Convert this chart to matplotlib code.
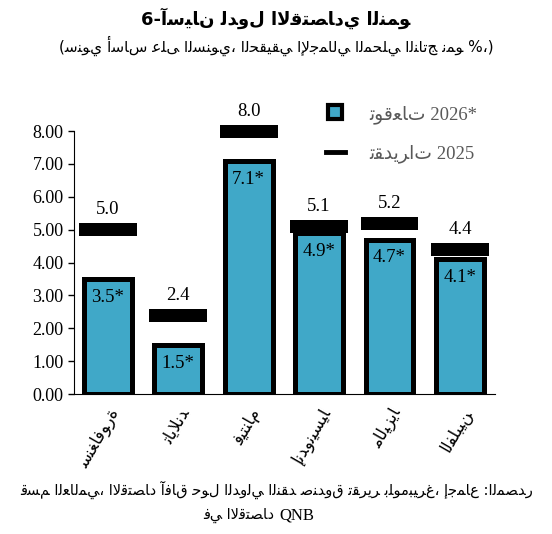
import matplotlib
matplotlib.use("Agg")
import matplotlib.pyplot as plt
from matplotlib.lines import Line2D

categories = ["سنغافورة", "تايلاند", "فيتنام", "إندونيسيا", "ماليزيا", "الفلبين"]
forecast_2026 = [3.5, 1.5, 7.1, 4.9, 4.7, 4.1]
estimate_2025 = [5.0, 2.4, 8.0, 5.1, 5.2, 4.4]
yticks = [0, 1, 2, 3, 4, 5, 6, 7, 8]

# --- minimal Arabic shaper (isolated, final, initial, medial), logical order kept ---
F = {
 'ا': (0xFE8D, 0xFE8E, None, None), 'آ': (0xFE81, 0xFE82, None, None),
 'أ': (0xFE83, 0xFE84, None, None), 'إ': (0xFE87, 0xFE88, None, None),
 'ؤ': (0xFE85, 0xFE86, None, None), 'ء': (0xFE80, None, None, None),
 'ب': (0xFE8F, 0xFE90, 0xFE91, 0xFE92), 'ة': (0xFE93, 0xFE94, None, None),
 'ت': (0xFE95, 0xFE96, 0xFE97, 0xFE98), 'ث': (0xFE99, 0xFE9A, 0xFE9B, 0xFE9C),
 'ج': (0xFE9D, 0xFE9E, 0xFE9F, 0xFEA0), 'ح': (0xFEA1, 0xFEA2, 0xFEA3, 0xFEA4),
 'خ': (0xFEA5, 0xFEA6, 0xFEA7, 0xFEA8), 'د': (0xFEA9, 0xFEAA, None, None),
 'ذ': (0xFEAB, 0xFEAC, None, None), 'ر': (0xFEAD, 0xFEAE, None, None),
 'ز': (0xFEAF, 0xFEB0, None, None), 'س': (0xFEB1, 0xFEB2, 0xFEB3, 0xFEB4),
 'ش': (0xFEB5, 0xFEB6, 0xFEB7, 0xFEB8), 'ص': (0xFEB9, 0xFEBA, 0xFEBB, 0xFEBC),
 'ض': (0xFEBD, 0xFEBE, 0xFEBF, 0xFEC0), 'ط': (0xFEC1, 0xFEC2, 0xFEC3, 0xFEC4),
 'ظ': (0xFEC5, 0xFEC6, 0xFEC7, 0xFEC8), 'ع': (0xFEC9, 0xFECA, 0xFECB, 0xFECC),
 'غ': (0xFECD, 0xFECE, 0xFECF, 0xFED0), 'ف': (0xFED1, 0xFED2, 0xFED3, 0xFED4),
 'ق': (0xFED5, 0xFED6, 0xFED7, 0xFED8), 'ك': (0xFED9, 0xFEDA, 0xFEDB, 0xFEDC),
 'ل': (0xFEDD, 0xFEDE, 0xFEDF, 0xFEE0), 'م': (0xFEE1, 0xFEE2, 0xFEE3, 0xFEE4),
 'ن': (0xFEE5, 0xFEE6, 0xFEE7, 0xFEE8), 'ه': (0xFEE9, 0xFEEA, 0xFEEB, 0xFEEC),
 'و': (0xFEED, 0xFEEE, None, None), 'ى': (0xFEEF, 0xFEF0, None, None),
 'ي': (0xFEF1, 0xFEF2, 0xFEF3, 0xFEF4), 'ئ': (0xFE89, 0xFE8A, 0xFE8B, 0xFE8C),
}
LA = {'ا': (0xFEFB, 0xFEFC), 'أ': (0xFEF7, 0xFEF8), 'إ': (0xFEF9, 0xFEFA), 'آ': (0xFEF5, 0xFEF6)}

def shape(w):
    chars = []
    i = 0
    while i < len(w):
        if w[i] == 'ل' and i + 1 < len(w) and w[i+1] in LA:
            chars.append(('LA', w[i+1])); i += 2
        else:
            chars.append((w[i], None)); i += 1
    def dual(c):
        return c[0] in F and F[c[0]][2] is not None
    def joins(c):
        return c[0] == 'LA' or c[0] in F
    out = []
    for k, c in enumerate(chars):
        prev_j = k > 0 and dual(chars[k-1]) and joins(c)
        if c[0] == 'LA':
            out.append(chr(LA[c[1]][1] if prev_j else LA[c[1]][0]))
            continue
        if c[0] not in F:
            out.append(c[0]); continue
        next_j = dual(c) and k + 1 < len(chars) and joins(chars[k+1])
        iso, fin, ini, med = F[c[0]]
        if prev_j and next_j: g = med
        elif prev_j: g = fin or iso
        elif next_j: g = ini
        else: g = iso
        out.append(chr(g))
    return ''.join(out)

FAM = ['Liberation Serif', 'DejaVu Sans']
AFAM = ['DejaVu Sans']

fig = plt.figure(figsize=(5.52, 5.34), dpi=100)
ax = fig.add_axes([0.134, 0.262, 0.763, 0.4925])
x = list(range(len(categories)))
ax.bar(x, forecast_2026, width=0.68, color='#40A8C8', edgecolor='black', linewidth=3.6)
ax.bar(x, [0.4]*len(x), bottom=[v - 0.2 for v in estimate_2025], width=0.82,
       color='black', clip_on=False)
for xi, f, e in zip(x, forecast_2026, estimate_2025):
    ax.text(xi, e + 0.35, f"{e:.1f}", ha='center', va='bottom', fontsize=13.5, family=FAM)
    ax.text(xi, f - 0.3, f"{f:.1f}*", ha='center', va='top', fontsize=13.5, family=FAM)

ax.set_xlim(-0.48, 5.5)
ax.set_ylim(0, 8)
ax.set_yticks(yticks)
ax.set_yticklabels([f"{t:.2f}" for t in yticks], fontsize=13, family=FAM)
ax.set_xticks(x)
ax.set_xticklabels([shape(c) for c in categories], rotation=60, ha='right',
                   rotation_mode='anchor', fontsize=12, family=AFAM)
ax.tick_params(axis='x', length=0, pad=8)
ax.tick_params(axis='y', length=4, width=1, direction='out')
for s in ['top', 'right']:
    ax.spines[s].set_visible(False)

h1 = Line2D([], [], marker='s', linestyle='none', markersize=10, markerfacecolor='#40A8C8',
            markeredgecolor='black', markeredgewidth=3)
h2 = Line2D([], [], color='black', linewidth=3.5)
leg = fig.legend([h1, h2], [shape("توقعات") + " 2026*", shape("تقديرات") + " 2025"],
                 loc='upper left', bbox_to_anchor=(0.56, 0.835), frameon=False,
                 prop={'family': FAM, 'size': 13.5}, handlelength=1.0, labelspacing=1.1,
                 handletextpad=1.3)
for t in leg.get_texts():
    t.set_color('#595959')

def rev_words(line):
    return ' '.join(shape(w) for w in reversed(line.split(' ')))

fig.text(0.5, 0.965, rev_words("النمو الاقتصادي لدول 6-آسيان"), ha='center', va='center',
         fontsize=13, fontweight='bold', family=AFAM)
fig.text(0.5, 0.915, "(" + rev_words("%، نمو الناتج المحلي الإجمالي الحقيقي السنوي، على أساس سنوي") + ")",
         ha='center', va='center', fontsize=11, family=AFAM)
fig.text(0.5, 0.083, rev_words(":المصدر إجماع بلومبيرغ، تقرير صندوق النقد الدولي حول آفاق الاقتصاد العالمي، قسم"),
         ha='center', va='center', fontsize=10.5, family=AFAM)
fig.text(0.497, 0.035, rev_words("الاقتصاد في"), ha='right', va='center', fontsize=10.5, family=AFAM)
fig.text(0.507, 0.035, "QNB", ha='left', va='center', fontsize=12, family=['Liberation Serif'])

fig.savefig("out.png", dpi=100)
